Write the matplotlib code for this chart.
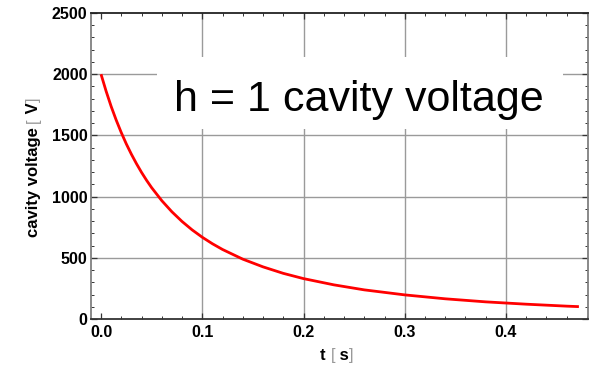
import matplotlib
matplotlib.use("Agg")
import matplotlib.pyplot as plt
from matplotlib.ticker import MultipleLocator
from matplotlib.patches import Rectangle

t = [0.0, 0.005, 0.01, 0.015, 0.02, 0.025, 0.03, 0.035, 0.04, 0.045, 0.05, 0.06, 0.07,
     0.08, 0.09, 0.10, 0.11, 0.12, 0.14, 0.16, 0.18, 0.20, 0.23, 0.26, 0.30, 0.34,
     0.38, 0.42, 0.46, 0.472]
voltage = [2000, 1862, 1737, 1625, 1523, 1430, 1346, 1269, 1198, 1133, 1073, 967, 876,
           797, 728, 668, 615, 568, 489, 426, 373, 330, 279, 238, 197, 165,
           140, 121, 105, 101]
title_text = "h = 1 cavity voltage"
x_ticks = [0.0, 0.1, 0.2, 0.3, 0.4]
y_ticks = [0, 500, 1000, 1500, 2000, 2500]

plt.rcParams['font.family'] = ['Liberation Sans', 'DejaVu Sans']

W, H = 589, 368
fig = plt.figure(figsize=(W / 100, H / 100), dpi=100)
ax = fig.add_axes([91 / W, 1 - 319 / H, (588 - 91) / W, (319 - 13) / H])

ax.plot(t, voltage, color='#ff0000', lw=2.0, zorder=3, solid_capstyle='butt')
ax.set_xlim(-0.0099, 0.481)
ax.set_ylim(0, 2500)
ax.set_xticks(x_ticks)
ax.set_yticks(y_ticks)
ax.set_xticklabels([f"{v:.1f}" for v in x_ticks], fontweight='bold', fontsize=11.5)
ax.set_yticklabels([str(v) for v in y_ticks], fontweight='bold', fontsize=11.5)
ax.xaxis.set_minor_locator(MultipleLocator(0.02))
ax.yaxis.set_minor_locator(MultipleLocator(100))
ax.tick_params(which='both', direction='in', top=True, right=True, labeltop=False, labelright=False,
               color='#333333')
ax.tick_params(which='major', length=4, width=0.9)
ax.tick_params(axis='x', which='major', pad=4.5)
ax.tick_params(axis='y', which='major', pad=2.5)
ax.tick_params(which='minor', length=2.2, width=0.7)

for yv in y_ticks[1:-1]:
    ax.axhline(yv, color='#9a9a9a', lw=1.0, zorder=1)
for xv in x_ticks[1:]:
    ax.axvline(xv, color='#9a9a9a', lw=1.0, zorder=1)

ax.spines['left'].set_color('#808080')
ax.spines['bottom'].set_color('#333333')
ax.spines['top'].set_color('#222222')
ax.spines['right'].set_color('#808080')
for s in ax.spines.values():
    s.set_linewidth(1.3)

# white panel behind the title (covers grid lines)
bx0, bx1 = (157 - 91) / 497, (563 - 91) / 497
by0, by1 = (319 - 129) / 306, (319 - 57) / 306
ax.add_patch(Rectangle((bx0, by0), bx1 - bx0, by1 - by0, transform=ax.transAxes,
                       facecolor='white', edgecolor='none', zorder=2))
ax.text(0.5386, 0.716, title_text, transform=ax.transAxes, fontsize=31,
        ha='center', va='center', zorder=4)

# Axis labels with gray brackets (Mathematica style)
def place_pieces(pieces, x0, y0, rotation=0):
    fig.canvas.draw()
    r = fig.canvas.get_renderer()
    texts = []
    total = 0
    for s, kw in pieces:
        if rotation == 0:
            tt = fig.text(0, 0, s, ha='left', va='baseline', **kw)
        else:
            tt = fig.text(0, 0, s, rotation=90, ha='left', va='bottom', **kw)
        w = tt.get_window_extent(r)
        total += (w.width if rotation == 0 else w.height)
        texts.append(tt)
    pos = -total / 2
    for tt in texts:
        w = tt.get_window_extent(r)
        if rotation == 0:
            tt.set_position(((x0 + pos) / W, y0 / H))
            pos += w.width
        else:
            tt.set_position((x0 / W, (y0 + pos) / H))
            pos += w.height

bold = dict(fontsize=12, fontweight='bold', color='black')
brk = dict(fontsize=12, fontweight='light', color='#999999')
place_pieces([("t ", bold), ("[", brk), (" s", bold), ("]", brk)], 337, H - 360)
place_pieces([("cavity voltage ", bold), ("[", brk), (" V", bold), ("]", brk)], 26, H - 167.5,
             rotation=90)

fig.savefig("out.png", dpi=100)
